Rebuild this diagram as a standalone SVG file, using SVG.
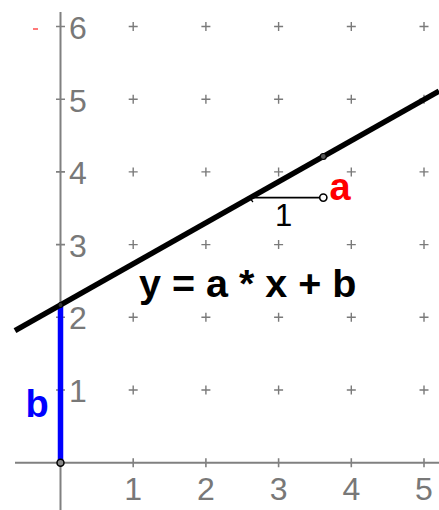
<svg xmlns="http://www.w3.org/2000/svg" width="439" height="510" viewBox="0 0 439 510">
<style>
.axis{stroke:#808080;stroke-width:2;fill:none}
.tick{stroke:#808080;stroke-width:1.6;fill:none}
.grid{stroke:#7a7a7a;stroke-width:1.4;fill:none}
.lbl{font-family:"Liberation Sans",Arial,sans-serif;font-size:32px;fill:#787878}
.big{font-family:"Liberation Sans",Arial,sans-serif;font-size:38px;font-weight:bold}
</style>
<rect width="439" height="510" fill="#fff"/>
<defs>
<path id="plus" d="M-4.5 0H4.5M0 -4.5V4.5" class="grid"/>
</defs>
<g id="grid">
<use href="#plus" x="133.2" y="390"/><use href="#plus" x="205.9" y="390"/><use href="#plus" x="278.6" y="390"/><use href="#plus" x="351.3" y="390"/><use href="#plus" x="424" y="390"/>
<use href="#plus" x="133.2" y="317.3"/><use href="#plus" x="205.9" y="317.3"/><use href="#plus" x="278.6" y="317.3"/><use href="#plus" x="351.3" y="317.3"/><use href="#plus" x="424" y="317.3"/>
<use href="#plus" x="133.2" y="244.6"/><use href="#plus" x="205.9" y="244.6"/><use href="#plus" x="278.6" y="244.6"/><use href="#plus" x="351.3" y="244.6"/><use href="#plus" x="424" y="244.6"/>
<use href="#plus" x="133.2" y="171.9"/><use href="#plus" x="205.9" y="171.9"/><use href="#plus" x="278.6" y="171.9"/><use href="#plus" x="351.3" y="171.9"/><use href="#plus" x="424" y="171.9"/>
<use href="#plus" x="133.2" y="99.2"/><use href="#plus" x="205.9" y="99.2"/><use href="#plus" x="278.6" y="99.2"/><use href="#plus" x="351.3" y="99.2"/><use href="#plus" x="424" y="99.2"/>
<use href="#plus" x="133.2" y="26.5"/><use href="#plus" x="205.9" y="26.5"/><use href="#plus" x="278.6" y="26.5"/><use href="#plus" x="351.3" y="26.5"/><use href="#plus" x="424" y="26.5"/>
</g>
<g id="axes">
<line class="axis" x1="15" y1="462.7" x2="439" y2="462.7"/>
<line class="axis" x1="60.5" y1="12" x2="60.5" y2="510"/>
<path class="tick" d="M133.2 458.2V467.2M205.9 458.2V467.2M278.6 458.2V467.2M351.3 458.2V467.2M424 458.2V467.2"/>
<path class="tick" d="M56 390H65M56 317.3H65M56 244.6H65M56 171.9H65M56 99.2H65M56 26.5H65"/>
<g class="lbl" text-anchor="middle">
<text x="133.2" y="499.5">1</text><text x="205.9" y="499.5">2</text><text x="278.6" y="499.5">3</text><text x="351.3" y="499.5">4</text><text x="424" y="499.5">5</text>
</g>
<g class="lbl">
<text x="69" y="402">1</text><text x="69" y="329.3">2</text><text x="69" y="256.6">3</text><text x="69" y="184">4</text><text x="69" y="111.5">5</text><text x="69" y="38.5">6</text>
</g>
<line x1="33" y1="29" x2="38" y2="29" stroke="#ff3030" stroke-width="1.3"/>
</g>
<g id="connectors">
<line id="b-segment" x1="60.5" y1="305" x2="60.5" y2="462.7" stroke="#0000ff" stroke-width="5.5"/>
<line id="slope-run" x1="250.6" y1="197.6" x2="323.3" y2="197.6" stroke="#000" stroke-width="1.6"/>
<path d="M255 194.5L249.5 198L253 202" stroke="#000" stroke-width="1.2" fill="none"/>
<line id="graph-line" x1="15" y1="330.7" x2="439" y2="91.1" stroke="#000" stroke-width="5.5"/>
</g>
<g id="point-intercept"><circle cx="60.5" cy="305" r="2.5" fill="#333" stroke="#000" stroke-width="1"/></g>
<g id="point-origin"><circle cx="60.5" cy="462.7" r="3.5" fill="#888" stroke="#000" stroke-width="1.5"/></g>
<g id="point-line"><circle cx="323.3" cy="156.5" r="3" fill="#555" stroke="#000" stroke-width="1.2"/></g>
<g id="point-run"><circle cx="323.3" cy="197.6" r="3.6" fill="#fff" stroke="#000" stroke-width="1.6"/></g>
<g id="label-1"><text class="lbl" x="283.5" y="226" text-anchor="middle" style="fill:#000;font-size:31px">1</text></g>
<g id="label-a"><text class="big" x="329.5" y="200" fill="#ff0000">a</text></g>
<g id="label-b"><text class="big" x="25.5" y="417" fill="#0000ff">b</text></g>
<g id="equation"><text class="big" x="139" y="297" fill="#000" style="font-size:39.5px">y = a * x + b</text></g>
</svg>
